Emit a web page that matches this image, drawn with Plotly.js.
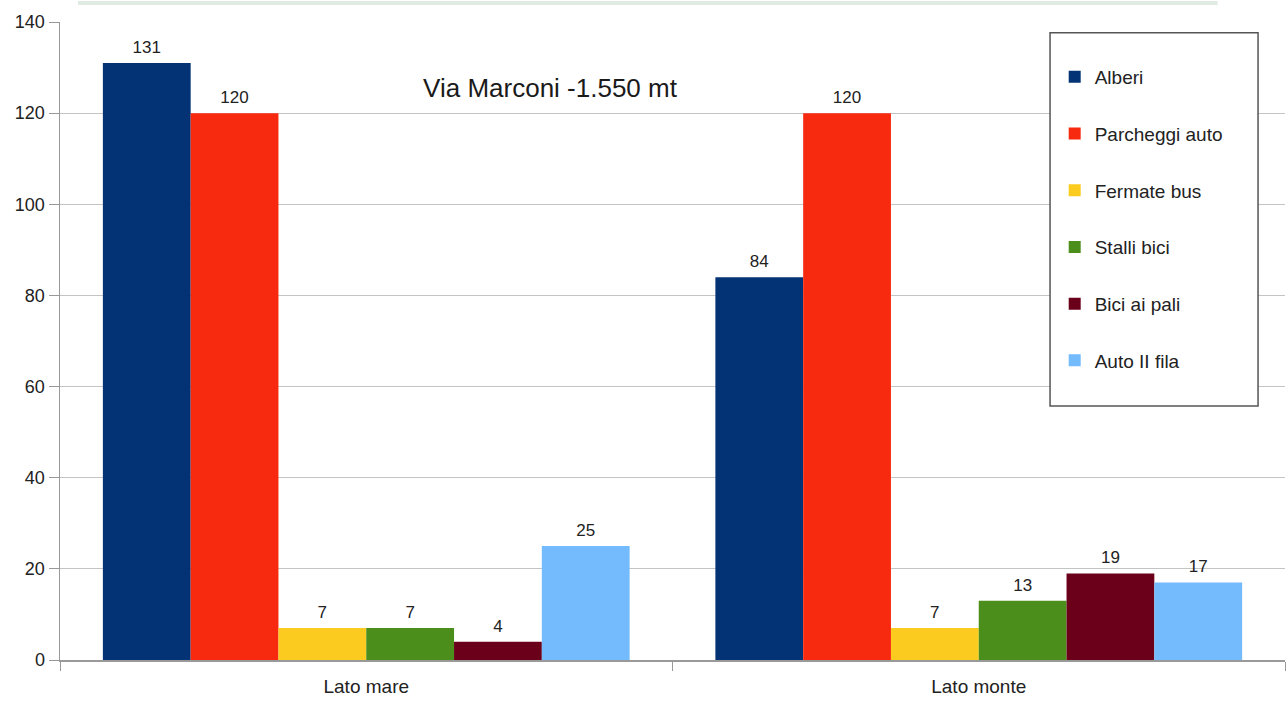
<!DOCTYPE html>
<html>
<head>
<meta charset="utf-8">
<script src="https://cdn.plot.ly/plotly-3.0.1.min.js"></script>
<style>html,body{margin:0;padding:0;background:#fff;}#chart{width:1287px;height:702px;}</style>
</head>
<body>
<div id="chart"></div>
<script>
const categories = ["Lato mare", "Lato monte"];
const seriesNames = ["Alberi", "Parcheggi auto", "Fermate bus", "Stalli bici", "Bici ai pali", "Auto II fila"];
const alberi = [131, 84];
const parcheggiAuto = [120, 120];
const fermateBus = [7, 7];
const stalliBici = [7, 13];
const biciAiPali = [4, 19];
const autoIIFila = [25, 17];
const yTicks = [0, 20, 40, 60, 80, 100, 120, 140];
const colors = ["#033275", "#f72a10", "#fccb1f", "#4b8e1b", "#6b001a", "#73bbfd"];
const allValues = [alberi, parcheggiAuto, fermateBus, stalliBici, biciAiPali, autoIIFila];
const FONT = "Liberation Sans, Arial, sans-serif";

const barTraces = allValues.map((vals, i) => ({
  type: "bar",
  name: seriesNames[i],
  x: categories,
  y: vals,
  marker: {color: colors[i], line: {width: 0}},
  legendgroup: "g" + i,
  hoverinfo: "x+y+name"
}));

const labelTraces = allValues.map((vals, i) => ({
  type: "scatter",
  mode: "markers+text",
  name: seriesNames[i],
  x: categories,
  y: vals,
  text: vals.map(String),
  textposition: "top center",
  textfont: {family: FONT, size: 17, color: "#222"},
  marker: {size: 8, opacity: 0},
  cliponaxis: false,
  showlegend: false,
  legendgroup: "g" + i,
  hoverinfo: "skip"
}));

const layout = {
  width: 1287,
  height: 702,
  margin: {l: 60, r: 2, t: 22, b: 42},
  paper_bgcolor: "#ffffff",
  plot_bgcolor: "#ffffff",
  font: {family: FONT, size: 18, color: "#222"},
  barmode: "group",
  bargap: 0.14,
  bargroupgap: 0,
  scattermode: "group",
  scattergap: 0.14,
  title: {
    text: "Via Marconi -1.550 mt",
    font: {family: FONT, size: 26, color: "#1a1a1a"},
    x: 0.4, xref: "paper", xanchor: "center",
    y: 0.8746, yref: "container", yanchor: "middle"
  },
  xaxis: {
    type: "category",
    tickson: "boundaries",
    ticks: "outside",
    ticklen: 9,
    tickcolor: "#999",
    showline: true,
    linecolor: "#999",
    linewidth: 1.5,
    showgrid: false,
    ticklabelstandoff: 9,
    tickfont: {family: FONT, size: 19, color: "#222"}
  },
  yaxis: {
    range: [0, 140],
    tickvals: yTicks,
    ticktext: yTicks.map(String),
    ticks: "outside",
    ticklen: 10,
    tickcolor: "#999",
    showline: true,
    linecolor: "#999",
    linewidth: 1.5,
    showgrid: true,
    gridcolor: "#c4c4c4",
    gridwidth: 1.2,
    zeroline: false,
    tickfont: {family: FONT, size: 18, color: "#222"}
  },
  showlegend: true,
  legend: {
    x: 0.812, xanchor: "left",
    y: 0.9436, yanchor: "top",
    bgcolor: "rgba(0,0,0,0)",
    borderwidth: 0,
    traceorder: "grouped",
    tracegroupgap: 29,
    font: {family: FONT, size: 19, color: "#222"},
    itemwidth: 30
  },
  shapes: [
    {
      type: "line", xref: "paper", yref: "paper",
      x0: 0.0147, x1: 0.945, y0: 1.0298, y1: 1.0298,
      line: {color: "#e0ece3", width: 4}
    },
    {
      type: "rect", xref: "paper", yref: "paper", layer: "above",
      x0: 0.8082, x1: 0.978, y0: 0.398, y1: 0.983,
      fillcolor: "#ffffff",
      line: {color: "#555555", width: 1.5}
    }
  ]
};

Plotly.newPlot("chart", barTraces.concat(labelTraces), layout, {displayModeBar: false, staticPlot: true});
</script>
</body>
</html>
